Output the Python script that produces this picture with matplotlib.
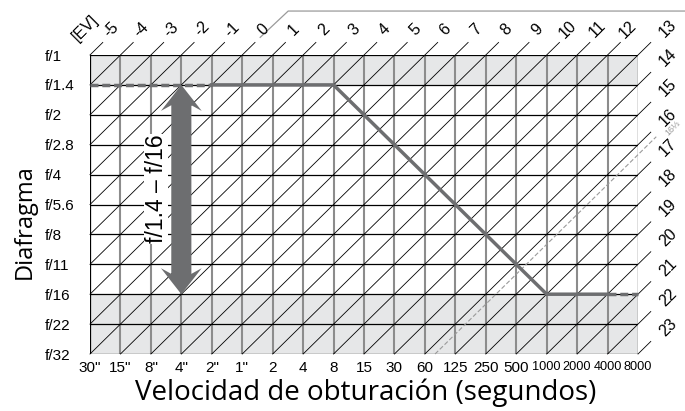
import numpy as np
import matplotlib
matplotlib.use("Agg")
import matplotlib.pyplot as plt
from matplotlib.patches import Polygon, Rectangle

# Datos del diagrama de programa de exposicion
velocidades = ['30"', '15"', '8"', '4"', '2"', '1"', '2', '4', '8', '15', '30',
               '60', '125', '250', '500', '1000', '2000', '4000', '8000']
diafragmas = ['f/1', 'f/1.4', 'f/2', 'f/2.8', 'f/4', 'f/5.6', 'f/8', 'f/11',
              'f/16', 'f/22', 'f/32']
ev_arriba = ['-5', '-4', '-3', '-2', '-1', '0', '1', '2', '3', '4', '5', '6',
             '7', '8', '9', '10', '11', '12']
ev_derecha = ['13', '14', '15', '16', '17', '18', '19', '20', '21', '22', '23']

# linea de programa (velocidad, diafragma)
prog_ini_v = ['30"', '2"']
prog_ini_f = ['f/1.4', 'f/1.4']
prog_v = ['2"', '8', '1000', '4000']
prog_f = ['f/1.4', 'f/1.4', 'f/16', 'f/16']
prog_fin_v = ['4000', '8000']
prog_fin_f = ['f/16', 'f/16']

# rango de diafragma (flecha)
flecha_v = '4"'
flecha_f = ['f/1.4', 'f/16']
flecha_txt = 'f/1.4 – f/16'

# zonas sombreadas (filas fuera de rango)
sombra_f = [('f/1', 'f/1.4'), ('f/16', 'f/32')]

ev_limite = 16 + 1 / 3
ev_limite_txt = '16⅓'

iv = {v: i for i, v in enumerate(velocidades)}
jf = {f: j for j, f in enumerate(diafragmas)}
nx = len(velocidades) - 1
ny = len(diafragmas) - 1
ev0 = int(ev_arriba[0])

gris = '#6d6e70'
fuente = ['Liberation Sans', 'DejaVu Sans']

fig = plt.figure(figsize=(6.85, 4.11), dpi=100)
ax = fig.add_axes([90 / 685, 1 - 354 / 411, 548 / 685, 299 / 411])
ax.set_xlim(0, nx)
ax.set_ylim(ny, 0)
for s in ax.spines.values():
    s.set_visible(False)

# sombreado
for a, b in sombra_f:
    ax.add_patch(Rectangle((0, jf[a]), nx, jf[b] - jf[a], color='#e6e7e8', lw=0, zorder=0))

# lineas verticales (grises) y horizontales (negras)
for i in range(1, nx):
    ax.plot([i, i], [0, ny], color='#8c8c8c', lw=1.5, zorder=1, solid_capstyle='butt')
for j in range(ny + 1):
    ax.plot([0, nx], [j, j], color='black', lw=0.9, zorder=2)
ax.plot([0, 0], [0, ny], color='black', lw=0.9, zorder=2)
ax.plot([nx, nx], [0, ny], color='black', lw=0.9, zorder=2)

# diagonales de EV
e = 0.42
for k in range(nx + ny + 1):
    x0 = max(0, k - ny)
    x1 = min(nx, k)
    if k <= nx:
        xs = [x0, x1 + e]
    else:
        xs = [x0, nx + e]
    ys = [k - x for x in xs]
    ax.plot(xs, ys, color='black', lw=0.6, zorder=2, clip_on=False)

# etiquetas EV
for k, t in enumerate(ev_arriba):
    ax.text(k + 0.68, -0.86, t, rotation=45, ha='center', va='center',
            fontsize=11.5, family=fuente, clip_on=False)
for m, t in enumerate(ev_derecha):
    ax.text(nx + 0.98, m - 0.9, t, rotation=45, ha='center', va='center',
            fontsize=11.5, family=fuente, clip_on=False)
ax.text(-0.15, -0.9, '[EV]', rotation=45, ha='center', va='center',
        fontsize=11.5, family=fuente, clip_on=False)

# linea decorativa desde EV 0
k0 = -ev0
ax.plot([k0 + 0.59, k0 + 1.51, 19.6], [-0.59, -1.47, -1.47], color='#9a9a9a',
        lw=0.9, clip_on=False)

# limite EV 16 1/3 (discontinua)
kl = ev_limite - ev0
ax.plot([kl - ny, nx + 0.6], [ny, kl - nx - 0.6], color='#9a9a9a', lw=0.8,
        dashes=(4, 2), zorder=3, clip_on=False)
ax.text(nx + 1.13, kl - nx - 0.9, ev_limite_txt, rotation=45, ha='center',
        va='center', fontsize=6.5, color='#9a9a9a', family=fuente, clip_on=False)

# linea de programa
ax.plot([iv[v] for v in prog_ini_v], [jf[f] for f in prog_ini_f], color=gris,
        lw=2.5, dashes=(2.3, 1.1), zorder=4, clip_on=False)
ax.plot([iv[v] for v in prog_v], [jf[f] for f in prog_f], color=gris,
        lw=2.5, zorder=4, solid_joinstyle='miter', clip_on=False)
ax.plot([iv[v] for v in prog_fin_v], [jf[f] for f in prog_fin_f], color=gris,
        lw=2.5, dashes=(2.3, 1.1), zorder=4, clip_on=False)

# flecha doble
cx = iv[flecha_v]
ya, yb = jf[flecha_f[0]], jf[flecha_f[1]]
sw, hw, hl, hj = 0.33, 0.67, 0.87, 0.68
pts = [(cx, ya), (cx + hw, ya + hl), (cx + sw, ya + hj), (cx + sw, yb - hj),
       (cx + hw, yb - hl), (cx, yb), (cx - hw, yb - hl), (cx - sw, yb - hj),
       (cx - sw, ya + hj), (cx - hw, ya + hl)]
ax.add_patch(Polygon(pts, closed=True, color=gris, lw=0, zorder=5))
ax.text(cx - 0.83, (ya + yb) / 2 - 0.03, flecha_txt, rotation=90, ha='center',
        va='center', fontsize=16.5, family=fuente, zorder=6,
        bbox=dict(facecolor='white', edgecolor='none', pad=0.5))

# ejes
ax.set_xticks(range(len(velocidades)))
ax.set_xticklabels(velocidades)
ax.set_yticks(range(len(diafragmas)))
ax.set_yticklabels(diafragmas)
ax.tick_params(length=0)
ax.tick_params(axis='x', pad=5)
ax.tick_params(axis='y', pad=32.4)
for lab in ax.get_yticklabels():
    lab.set_horizontalalignment('left')
    lab.set_family(fuente)
    lab.set_fontsize(11)
for lab in ax.get_xticklabels():
    lab.set_family(fuente)
    if len(lab.get_text()) == 4:
        lab.set_fontsize(9.2)
    else:
        lab.set_fontsize(11)

fig.text(366 / 685, 1 - 393 / 411, 'Velocidad de obturación (segundos)',
         ha='center', va='center', fontsize=20, family=['Open Sans', 'DejaVu Sans'])
fig.text(25 / 685, 1 - 222 / 411, 'Diafragma', rotation=90, ha='center',
         va='center', fontsize=17, family=['Open Sans', 'DejaVu Sans'])

fig.savefig('out.png', dpi=100)
